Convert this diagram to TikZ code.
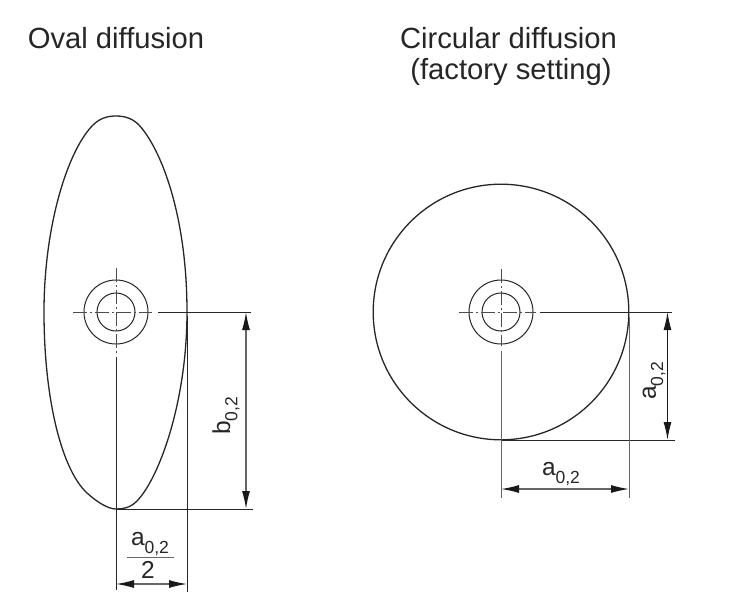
\documentclass[tikz,border=0pt]{standalone}
\usepackage{fontspec}
\setmainfont{Liberation Sans}
\usetikzlibrary{arrows.meta}
\newcommand{\titlefont}{\fontsize{29.2}{34}\selectfont}
\newcommand{\dimfont}{\fontsize{24.5}{28}\selectfont}
\newcommand{\subfont}[1]{\raisebox{-.3em}{\fontsize{17.5}{20}\selectfont #1}}
\tikzset{
	outline/.style={line width=1.3pt, color=black!85},
	helpline/.style={line width=1pt, color=black!85},
	centerline/.style={line width=1pt, color=black!70, dash pattern=on 14pt off 3pt on 2pt off 3pt},
	dimline/.style={line width=1.3pt, color=black!60, {Latex[length=18pt,width=8pt,color=black!90]}-{Latex[length=18pt,width=8pt,color=black!90]}},
	dimtext/.style={inner sep=0pt, text=black!85, font=\dimfont}
}
\begin{document}
\begin{tikzpicture}[x=1pt, y=-1pt]
	\useasboundingbox (0,0) rectangle (729,606);
	% titles
	\node [inner sep=0pt, text=black!85, font=\titlefont] (ovaltitle) at (116,38) {Oval diffusion};
	\node [inner sep=0pt, text=black!85, font=\titlefont] (circtitle) at (508.5,38) {Circular diffusion};
	\node [inner sep=0pt, text=black!85, font=\titlefont] (factory) at (511,72) {(factory setting)};

	% oval diffusion
	\coordinate (ovalcenter) at (116,312);
	\coordinate (ovaltop) at (116,116);
	\coordinate (ovalright) at (187,312);
	\coordinate (ovalbottom) at (116,509);
	\coordinate (ovalleft) at (44,312);
	\draw [outline] (ovaltop) .. controls (126,116) and (133,119) .. (139,125)
		.. controls (161,149) and (187,215) .. (ovalright)
		.. controls (187,400) and (160,477) .. (137,501)
		.. controls (130,508) and (123,509) .. (ovalbottom)
		.. controls (108,509) and (97,502) .. (87,493)
		.. controls (62,470) and (44,400) .. (ovalleft)
		.. controls (44,225) and (68,150) .. (93,125)
		.. controls (100,118) and (108,116) .. (ovaltop);
	\draw [helpline] (ovalcenter) circle (32);
	\draw [helpline] (ovalcenter) circle (19);
	\draw [centerline] (73,312) -- (152,312);
	\draw [centerline] (116,268) -- (116,353);
	\coordinate (ovalhstart) at (158,312);
	\coordinate (ovalhend) at (251,312);
	\coordinate (ovalbend) at (253,509);
	\coordinate (ovalvstart) at (116,357);
	\coordinate (ovalvend) at (116,590);
	\coordinate (ovalrstart) at (187,316);
	\coordinate (ovalrend) at (187,592);
	\draw [helpline] (ovalhstart) -- (ovalhend);
	\draw [helpline] (ovalbottom) -- (ovalbend);
	\draw [helpline] (ovalvstart) -- (ovalvend);
	\draw [helpline] (ovalrstart) -- (ovalrend);
	\coordinate (bup) at (246,312);
	\coordinate (bdown) at (246,509);
	\coordinate (aleft) at (116,584);
	\coordinate (aright) at (187,584);
	\draw [dimline] (bup) -- (bdown);
	\draw [dimline] (aleft) -- (aright);
	\node [dimtext, rotate=90] (blabel) at (226,416) {b\subfont{0,2}};
	\node [dimtext] (halfnum) at (150,544) {a\subfont{0,2}};
	\node [dimtext] (halfden) at (148,570) {2};
	\draw [line width=1pt, color=black!60] (127,557) -- (174,557);

	% circular diffusion
	\coordinate (circcenter) at (501,312);
	\draw [outline] (circcenter) circle (127.8);
	\draw [helpline] (circcenter) circle (32);
	\draw [helpline] (circcenter) circle (19);
	\draw [centerline] (459,312) -- (536,312);
	\draw [centerline] (501,269) -- (501,346);
	\coordinate (circhstart) at (540,312);
	\coordinate (circhend) at (672,312);
	\coordinate (circbstart) at (501,440);
	\coordinate (circbend) at (675,440);
	\coordinate (circvstart) at (501,351);
	\coordinate (circvend) at (501,498);
	\coordinate (circrstart) at (629,317);
	\coordinate (circrend) at (629,498);
	\draw [helpline] (circhstart) -- (circhend);
	\draw [helpline] (circbstart) -- (circbend);
	\draw [helpline, color=black!60] (circvstart) -- (circvend);
	\draw [helpline, color=black!60] (circrstart) -- (circrend);
	\coordinate (aup) at (667.5,312);
	\coordinate (adown) at (667.5,440);
	\coordinate (bleft) at (501,489);
	\coordinate (bright) at (629,489);
	\draw [dimline, color=black!90] (aup) -- (adown);
	\draw [dimline] (bleft) -- (bright);
	\node [dimtext, rotate=90] (avlabel) at (654,381) {a\subfont{0,2}};
	\node [dimtext] (ahlabel) at (561,474) {a\subfont{0,2}};
\end{tikzpicture}
\end{document}
